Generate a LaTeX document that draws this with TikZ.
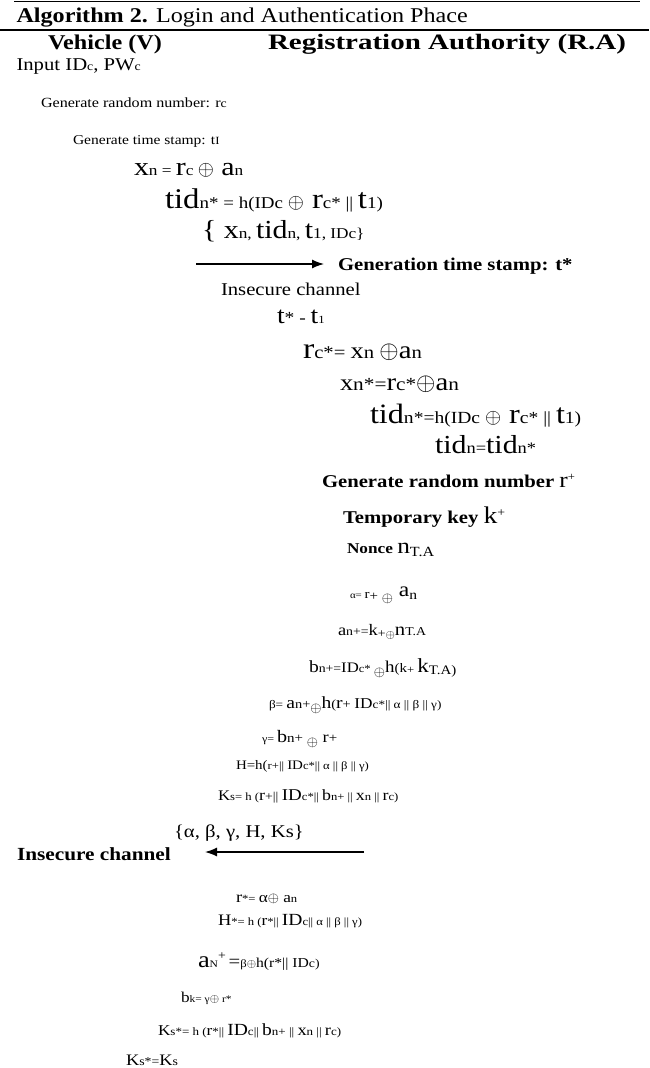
\documentclass[tikz,border=0pt]{standalone}
\usepackage{fontspec}
\usetikzlibrary{arrows.meta}
\setmainfont{Liberation Serif}[FakeStretch=1.15]
\newcommand{\fs}[1]{\fontsize{#1}{#1}\selectfont}
\newcommand{\op}[1]{{\fs{#1}$\oplus$}}
\begin{document}
\begin{tikzpicture}[x=1pt,y=-1pt,
  txt/.style={anchor=base west, inner sep=0pt, outer sep=0pt},
  rule/.style={line width=#1},
  arr/.style={line width=1.3pt,-{Latex[length=12pt,width=9pt]}}]
\useasboundingbox (0,0) rectangle (649,1068);
% rules
\coordinate (r1a) at (14,1.5); \coordinate (r1b) at (640,1.5);
\coordinate (r2a) at (0,30); \coordinate (r2b) at (649,30);
\draw[rule=1.4pt] (r1a) -- (r1b);
\draw[rule=2pt] (r2a) -- (r2b);
% header
\node[txt] (title) at (16.5,22) {\fs{21}\textbf{Algorithm 2.} Login and Authentication Phace};
\node[txt] (veh) at (48,49) {\fs{21}\bfseries Vehicle (V)};
\node[txt] (ra) at (268,49) {\scalebox{1.145}[1]{\fs{22}\bfseries Registration Authority (R.A)}};
\node[txt] (inp) at (16.5,70) {\fs{18}Input ID{\fs{12}c}, PW{\fs{12}c}};
\node[txt] (genr) at (41,107) {\fs{14}Generate random number: r{\fs{12}c}};
\node[txt] (gent) at (73,144) {\fs{13.5}Generate time stamp: t{\fs{11}I}};
\node[txt] (xn) at (134,175) {{\fs{26}x}{\fs{15}n = }{\fs{26}r}{\fs{15}c }\op{20}{\fs{26} a}{\fs{15}n}};
\node[txt] (tid) at (165,208) {{\fs{28.5}tid}{\fs{16.5}n* = h(IDc }\op{22}{\fs{28.5} r}{\fs{16.5}c* || }{\fs{28.5}t}{\fs{16.5}1)}};
\node[txt] (msg1) at (202,238) {{\fs{26}\{ x}{\fs{15}n, }{\fs{26}tid}{\fs{15}n, }{\fs{26}t}{\fs{15}1, IDc\}}};
% first arrow
\coordinate (a1s) at (196,264); \coordinate (a1e) at (324,264);
\draw[arr] (a1s) -- (a1e);
\node[txt] (gts) at (338,270) {\fs{18}\bfseries Generation time stamp: t*};
\node[txt] (ic1) at (221,295) {\fs{18}Insecure channel};
\node[txt] (tt) at (277,323) {{\fs{24}t}{\fs{17}* - }{\fs{24}t}{\fs{11}1}};
\node[txt] (rcs) at (303,358) {{\fs{29.5}r}{\fs{18}c*= }{\fs{23}x}{\fs{18}n }\op{23}{\fs{25}a}{\fs{18}n}};
\node[txt] (xns) at (340,390) {{\fs{23}x}{\fs{18.5}n*=}{\fs{25}r}{\fs{18.5}c*}\op{23}{\fs{25}a}{\fs{18.5}n}};
\node[txt] (tids) at (370,423) {{\fs{28}tid}{\fs{17}n*=h(IDc }\op{21.5}{\fs{28} r}{\fs{17}c* || }{\fs{28}t}{\fs{17}1)}};
\node[txt] (tideq) at (435,453) {{\fs{26}tid}{\fs{16}n=}{\fs{26}tid}{\fs{16}n*}};
\node[txt] (genrp) at (322,487) {\fs{18}\bfseries Generate random number {\mdseries\fs{22}r}{\mdseries\fs{11}\raisebox{7pt}{+}}};
\node[txt] (tkey) at (343,523) {\fs{18}\bfseries Temporary key {\mdseries\fs{24}k}{\mdseries\fs{12}\raisebox{7pt}{+}}};
\node[txt] (nonce) at (347,553) {\fs{15}\bfseries Nonce {\mdseries\fs{22}n}{\mdseries\fs{14}\raisebox{-3pt}{T.A}}};
\node[txt] (alpha) at (350,598) {{\fs{9.5}α= }{\fs{13}r}{\fs{13}\raisebox{-2pt}{+} }\raisebox{-4pt}{\op{14.5}}{\fs{20.5} \raisebox{2pt}{a}}{\fs{13.5}\raisebox{-1pt}{n}}};
\node[txt] (anp) at (338,635) {{\fs{16}a}{\fs{12}n+=}{\fs{16}k}{\fs{12}\raisebox{-2pt}{+}}\raisebox{-3pt}{\op{13}}{\fs{18}n}{\fs{12}T.A}};
\node[txt] (bnp) at (309,672) {{\fs{17}b}{\fs{12}n+=}{\fs{14.5}ID}{\fs{11}c* }\raisebox{-4pt}{\op{14}}{\fs{16.5}h}{\fs{13}(k}{\fs{11}\raisebox{-1pt}{+} }{\fs{20}k}{\fs{13}\raisebox{-2pt}{T.A)}}};
\node[txt] (beta) at (269,708) {{\fs{11.5}β= }{\fs{17}a}{\fs{12.5}n+}\raisebox{-4pt}{\op{14}}{\fs{17}h}{\fs{12.5}(}{\fs{17}r}{\fs{12.5}+ }{\fs{15}ID}{\fs{11.5}c*|| α || β || γ)}};
\node[txt] (gamma) at (262,742) {{\fs{10.5}γ= }{\fs{17.5}b}{\fs{13}n+ }\raisebox{-4pt}{\op{14}}{\fs{16} r}{\fs{13}+}};
\node[txt] (hh) at (236,769) {{\fs{13}H=h(}{\fs{11}r+|| }{\fs{13}ID}{\fs{11}c*|| α || β || γ)}};
\node[txt] (ks) at (218,800) {{\fs{14.7}K}{\fs{11}s= h (}{\fs{15.6}r}{\fs{12}+|| }{\fs{16.5}ID}{\fs{11}c*|| }{\fs{15.6}b}{\fs{11}n+ || }{\fs{15.6}x}{\fs{11}n || }{\fs{15.6}r}{\fs{11}c)}};
\node[txt] (msg2) at (174,837) {\fs{18}\{α, β, γ, H, Ks\}};
\node[txt] (ic2) at (17,860) {\fs{18.5}\bfseries Insecure channel};
\coordinate (a2s) at (364,852); \coordinate (a2e) at (205,852);
\draw[arr] (a2s) -- (a2e);
\node[txt] (rst) at (236,902) {{\fs{16}r}{\fs{11}*= }{\fs{15}α}\op{15}{\fs{15} a}{\fs{11}n}};
\node[txt] (hst) at (218,925) {{\fs{16}H}{\fs{11}*= h (}{\fs{15}r}{\fs{11}*|| }{\fs{17}ID}{\fs{11}c|| α || β || γ)}};
\node[txt] (an) at (198,967) {{\fs{23}a}{\fs{10}N}{\fs{12}\raisebox{8pt}{+}} {\fs{18}=}{\fs{11}β}\op{13}{\fs{13.6}h(r*|| ID}{\fs{12}c)}};
\node[txt] (bk) at (181,1002) {{\fs{15}b}{\fs{10}k= γ}\op{11.6}{\fs{10} r*}};
\node[txt] (kss) at (158,1035) {{\fs{15}K}{\fs{11.3}s*= h (}{\fs{15}r}{\fs{11.3}*|| }{\fs{17}ID}{\fs{11.3}c|| }{\fs{17}b}{\fs{11.3}n+ || }{\fs{16}x}{\fs{11.3}n || }{\fs{16}r}{\fs{11.3}c)}};
\node[txt] (kseq) at (126,1065) {{\fs{16}K}{\fs{12}s*=}{\fs{16}K}{\fs{12}s}};
\end{tikzpicture}
\end{document}
